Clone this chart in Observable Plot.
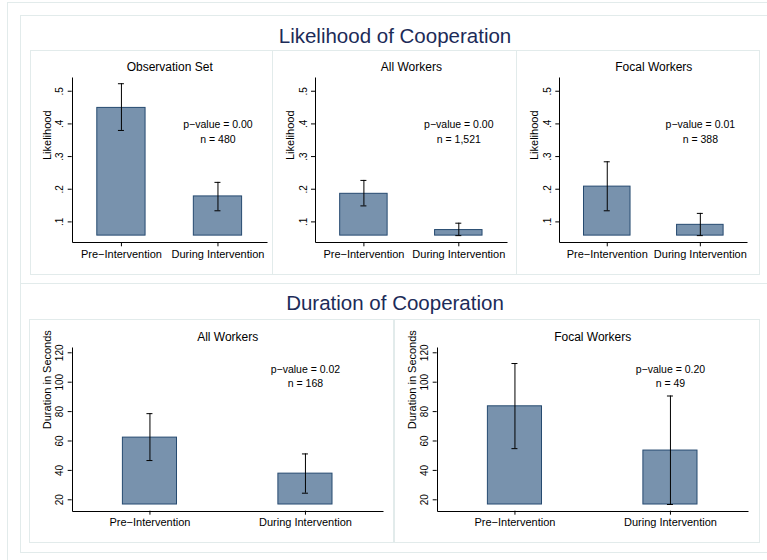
<!DOCTYPE html>
<html>
<head>
<meta charset="utf-8">
<script src="https://cdn.jsdelivr.net/npm/d3@7"></script>
<script src="https://cdn.jsdelivr.net/npm/@observablehq/plot@0.6"></script>
<style>
  body { margin: 0; background: #fff; }
  #fig { position: relative; width: 767px; height: 560px; overflow: hidden; background: #fff;
         font-family: "Liberation Sans", Arial, Helvetica, sans-serif; }
  .frame { position: absolute; box-sizing: border-box; border: 1px solid #e2ebeb; }
  .heading { position: absolute; left: 20px; width: 750px; text-align: center; color: #1c2b58;
             font-size: 20.5px; line-height: 1; white-space: nowrap; }
  .panel { position: absolute; }
  .panel svg { background: transparent; max-width: none; }
</style>
</head>
<body>
<div id="fig"></div>
<script>
// Treatment groups shown on every x axis
const groups = ["Pre\u2212Intervention", "During Intervention"];

// Likelihood of cooperation: group means with 95% confidence bounds
const likelihoodPanels = ["Observation Set", "All Workers", "Focal Workers"];
const likelihoodMean = [[0.449, 0.178], [0.186, 0.075], [0.208, 0.091]];
const likelihoodLow  = [[0.380, 0.134], [0.149, 0.058], [0.134, 0.058]];
const likelihoodHigh = [[0.523, 0.221], [0.227, 0.096], [0.284, 0.126]];
const likelihoodP = ["0.00", "0.00", "0.01"];
const likelihoodN = ["480", "1,521", "388"];
const likelihoodTicks = [0.1, 0.2, 0.3, 0.4, 0.5];
const likelihoodTickLabels = [".1", ".2", ".3", ".4", ".5"];

// Duration of cooperation (seconds): group means with 95% confidence bounds
const durationPanels = ["All Workers", "Focal Workers"];
const durationMean = [[62.3, 37.8], [83.6, 53.5]];
const durationLow  = [[46.7, 24.5], [54.8, 16.8]];
const durationHigh = [[78.6, 51.2], [112.7, 90.6]];
const durationP = ["0.02", "0.20"];
const durationN = ["168", "49"];
const durationTicks = [20, 40, 60, 80, 100, 120];
const durationTickLabels = ["20", "40", "60", "80", "100", "120"];

const fig = document.getElementById("fig");
const FONT = '"Liberation Sans", Arial, Helvetica, sans-serif';

function addFrame(x0, y0, x1, y1) {
  const d = document.createElement("div");
  d.className = "frame";
  Object.assign(d.style, {left: x0 + "px", top: y0 + "px", width: (x1 - x0 + 1) + "px", height: (y1 - y0 + 1) + "px"});
  fig.appendChild(d);
}

function addHeading(text, top) {
  const d = document.createElement("div");
  d.className = "heading";
  d.style.top = top + "px";
  d.textContent = text;
  fig.appendChild(d);
}

// L-shaped axis lines along the left and bottom of the plot area
function axisLines(index, scales, values, dims) {
  const x0 = Math.round(dims.marginLeft) + 0.5;
  const y0 = Math.round(dims.marginTop) + 0.5;
  const y1 = Math.round(dims.height - dims.marginBottom) + 0.5;
  const x1 = Math.round(dims.width - dims.marginRight) + 0.5;
  return d3.create("svg:path")
    .attr("d", `M${x0},${y0}V${y1}H${x1}`)
    .attr("fill", "none")
    .attr("stroke", "#000")
    .attr("stroke-width", 1)
    .node();
}

function panel(o) {
  const rows = groups.map((g, i) => ({group: g, mean: o.mean[i], low: o.low[i], high: o.high[i]}));
  const plotWidth = o.width - o.marginLeft - o.marginRight;
  const band = d3.scaleBand().domain(groups).range([0, plotWidth])
    .paddingInner(o.padInner).paddingOuter(o.padOuter);
  const capInset = (band.bandwidth() - 6) / 2;
  const note = [{group: groups[1], text: `p\u2212value = ${o.p}\nn = ${o.n}`}];

  const svg = Plot.plot({
    width: o.width,
    height: o.height,
    marginLeft: o.marginLeft,
    marginRight: o.marginRight,
    marginTop: o.marginTop,
    marginBottom: o.marginBottom,
    style: {fontFamily: FONT, color: "#000", background: "transparent", overflow: "visible"},
    x: {domain: groups, paddingInner: o.padInner, paddingOuter: o.padOuter, round: false, label: null},
    y: {domain: o.yDomain, label: null},
    marks: [
      Plot.barY(rows, {x: "group", y1: o.base, y2: "mean", fill: "#7892ad", stroke: "#264a70", strokeWidth: 1, inset: 0}),
      Plot.ruleX(rows, {x: "group", y1: "low", y2: "high", stroke: "#000", strokeWidth: 1}),
      Plot.tickY(rows, {x: "group", y: "low", insetLeft: capInset, insetRight: capInset, stroke: "#000", strokeWidth: 1}),
      Plot.tickY(rows, {x: "group", y: "high", insetLeft: capInset, insetRight: capInset, stroke: "#000", strokeWidth: 1}),
      axisLines,
      Plot.axisX({tickSize: 4, tickPadding: 3, fontSize: 11, label: null}),
      Plot.axisY(o.ticks, {
        tickSize: 4, tickPadding: 5, tickRotate: -90, fontSize: 10, label: null,
        tickFormat: d => o.tickLabels[o.ticks.indexOf(d)]
      }),
      Plot.text([o.title], {text: d => d, frameAnchor: "top", dy: -10, fontSize: 12, lineAnchor: "middle", fill: "#000"}),
      Plot.text([o.yLabel], {text: d => d, frameAnchor: "left", rotate: -90, dx: -25, fontSize: 11, lineAnchor: "middle", fill: "#000"}),
      Plot.text(note, {x: "group", y: o.noteY, text: "text", fontSize: 10.5, lineHeight: 1.38, lineAnchor: "middle", fill: "#000"})
    ]
  });

  const wrap = document.createElement("div");
  wrap.className = "panel";
  Object.assign(wrap.style, {left: o.left + "px", top: o.top + "px", width: o.width + "px", height: o.height + "px"});
  wrap.appendChild(svg);
  fig.appendChild(wrap);
}

// Outer figure frame and the two section frames
addFrame(7, 2, 790, 600);
addFrame(20, 15, 770, 283);
addFrame(20, 283, 770, 552);

addHeading("Likelihood of Cooperation", 26);
addHeading("Duration of Cooperation", 292.5);

// Panel boxes
addFrame(30, 50, 272, 274);
addFrame(272, 50, 516, 274);
addFrame(516, 50, 759, 274);
addFrame(29, 319, 393, 542);
addFrame(394, 319, 759, 542);

// Likelihood row
const likelihoodLayout = [
  {left: 30, width: 242, marginLeft: 41.7, marginRight: 5.3},
  {left: 272, width: 244, marginLeft: 43, marginRight: 9.3},
  {left: 516, width: 243, marginLeft: 43.3, marginRight: 11.7}
];
const likelihoodBase = d3.min(likelihoodLow.flat());
likelihoodPanels.forEach((title, i) => {
  panel({
    ...likelihoodLayout[i],
    top: 50, height: 224, marginTop: 26.7, marginBottom: 31.7,
    title, yLabel: "Likelihood",
    mean: likelihoodMean[i], low: likelihoodLow[i], high: likelihoodHigh[i],
    p: likelihoodP[i], n: likelihoodN[i],
    yDomain: [0.036, 0.543], base: likelihoodBase,
    ticks: likelihoodTicks, tickLabels: likelihoodTickLabels,
    padInner: 0.5, padOuter: 0.26, noteY: 0.378
  });
});

// Duration row
const durationLayout = [
  {left: 29, width: 364, marginLeft: 42.7, marginRight: 10.3},
  {left: 394, width: 365, marginLeft: 42.7, marginRight: 11.3}
];
const durationBase = d3.min(durationLow.flat());
durationPanels.forEach((title, i) => {
  panel({
    ...durationLayout[i],
    top: 319, height: 223.5, marginTop: 27.7, marginBottom: 31.8,
    title, yLabel: "Duration in Seconds",
    mean: durationMean[i], low: durationLow[i], high: durationHigh[i],
    p: durationP[i], n: durationN[i],
    yDomain: [12.25, 123.8], base: durationBase,
    ticks: durationTicks, tickLabels: durationTickLabels,
    padInner: 0.652, padOuter: 0.326, noteY: 104.6
  });
});
</script>
</body>
</html>
